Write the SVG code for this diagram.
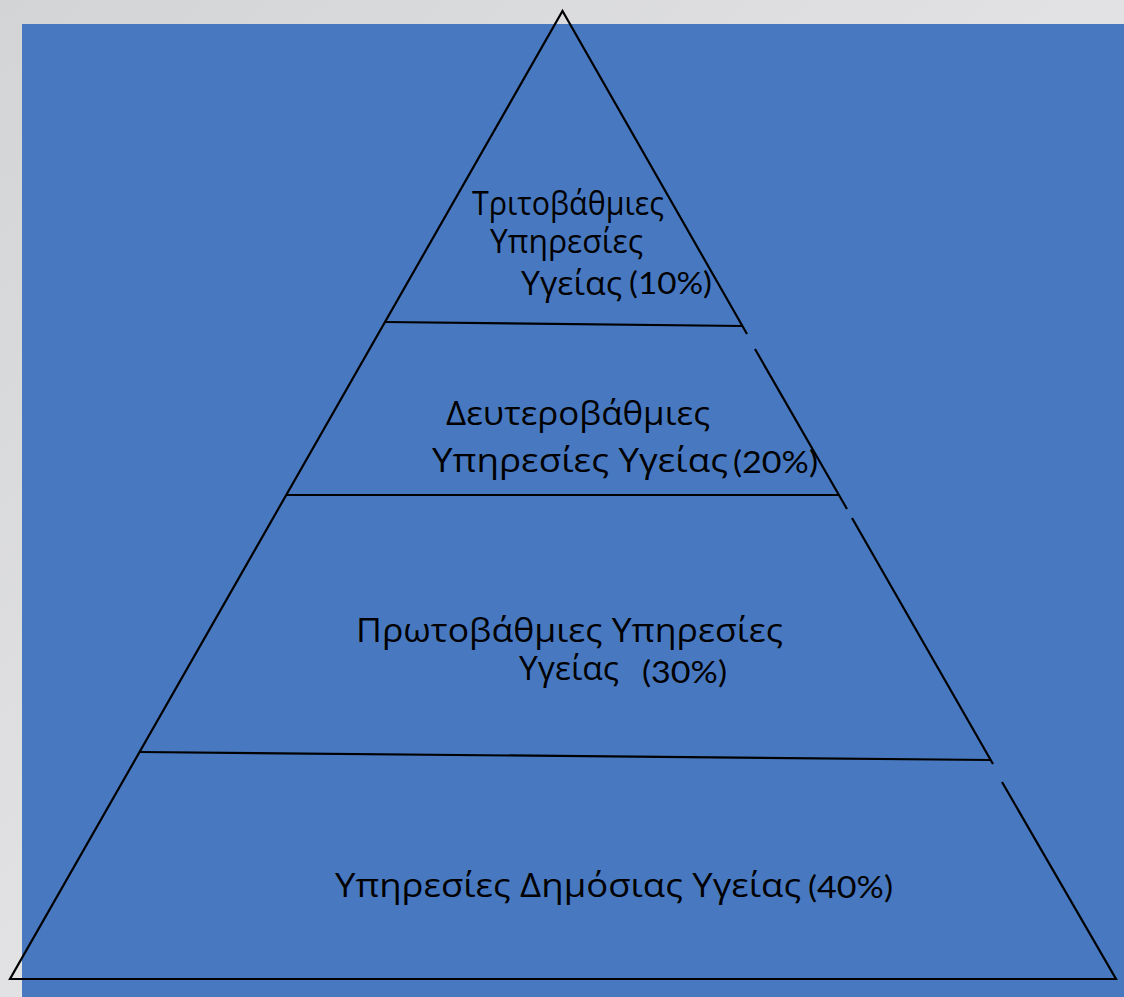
<svg xmlns="http://www.w3.org/2000/svg" width="1124" height="997" viewBox="0 0 1124 997">
<defs>
<linearGradient id="bg" x1="0" y1="0" x2="1" y2="1">
<stop offset="0" stop-color="#d3d4d6"/>
<stop offset="0.5" stop-color="#e2e2e4"/>
<stop offset="1" stop-color="#f2f2f3"/>
</linearGradient>
<style>
.ln{stroke:#000;stroke-width:2.2;fill:none;stroke-linecap:butt}
.t{font-family:"Open Sans","Noto Sans","DejaVu Sans",sans-serif;font-size:32px;fill:#000}
.p{font-family:Lato,"Open Sans",sans-serif;font-size:30px;fill:#000}
</style>
</defs>
<rect x="0" y="0" width="1124" height="997" fill="url(#bg)"/>
<rect x="22" y="24" width="1102" height="973" fill="#4879c0"/>
<g id="connectors">
<polyline class="ln" points="747,334 562.5,11 10,979 1116,979 1002,782"/>
<line class="ln" x1="755" y1="349" x2="847" y2="509"/>
<line class="ln" x1="852" y1="518" x2="993" y2="764"/>
<line class="ln" x1="385" y1="322" x2="743" y2="326"/>
<line class="ln" x1="287" y1="495" x2="839" y2="495"/>
<line class="ln" x1="140" y1="752" x2="991" y2="760"/>
</g>
<g id="tier-tertiary">
<text class="t" x="472" y="215" textLength="192" lengthAdjust="spacingAndGlyphs">Τριτοβάθμιες</text>
<text class="t" x="490" y="253" textLength="153" lengthAdjust="spacingAndGlyphs">Υπηρεσίες</text>
<text class="t" x="521" y="295" textLength="101" lengthAdjust="spacingAndGlyphs">Υγείας</text>
<text class="p" x="629" y="294" textLength="83" lengthAdjust="spacingAndGlyphs">(10%)</text>
</g>
<g id="tier-secondary">
<text class="t" x="446" y="425" textLength="264" lengthAdjust="spacingAndGlyphs">Δευτεροβάθμιες</text>
<text class="t" x="432" y="472" textLength="296" lengthAdjust="spacingAndGlyphs">Υπηρεσίες Υγείας</text>
<text class="p" x="733" y="473" textLength="85" lengthAdjust="spacingAndGlyphs">(20%)</text>
</g>
<g id="tier-primary">
<text class="t" x="356" y="642" textLength="427" lengthAdjust="spacingAndGlyphs">Πρωτοβάθμιες Υπηρεσίες</text>
<text class="t" x="519" y="680" textLength="100" lengthAdjust="spacingAndGlyphs">Υγείας</text>
<text class="p" x="642" y="683" textLength="85" lengthAdjust="spacingAndGlyphs">(30%)</text>
</g>
<g id="tier-public">
<text class="t" x="335" y="897" textLength="466" lengthAdjust="spacingAndGlyphs">Υπηρεσίες Δημόσιας Υγείας</text>
<text class="p" x="808" y="898" textLength="85" lengthAdjust="spacingAndGlyphs">(40%)</text>
</g>
</svg>
